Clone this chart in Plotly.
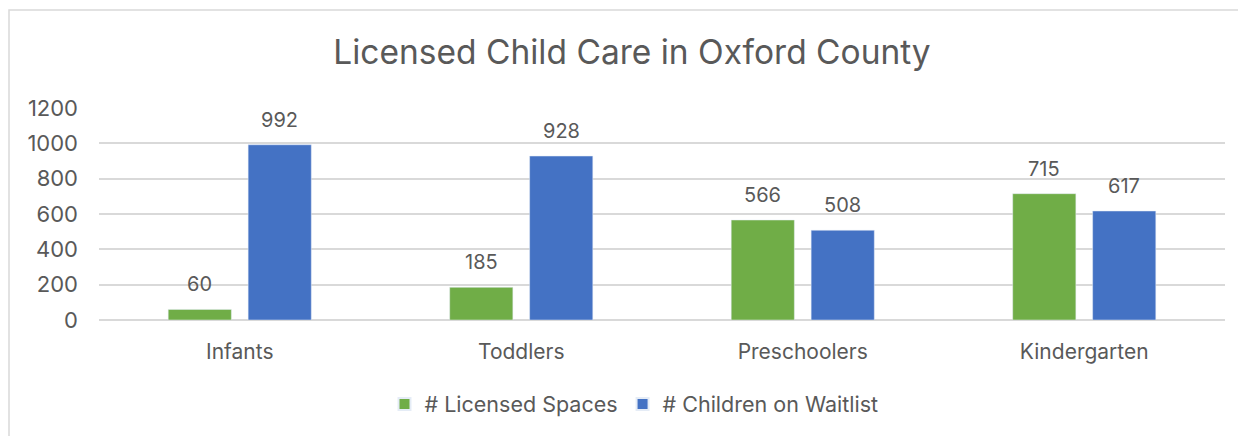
import plotly.graph_objects as go

categories = ["Infants", "Toddlers", "Preschoolers", "Kindergarten"]
licensed_spaces = [60, 185, 566, 715]
children_waitlist = [992, 928, 508, 617]
series_names = ["# Licensed Spaces", "# Children on Waitlist"]
y_ticks = [0, 200, 400, 600, 800, 1000, 1200]

# page body has an 8px margin, so the figure is drawn 8px in from the window corner
OFF = 8
W, H = 1246 - OFF, 436 - OFF
ml, mr, mt, mb = 99 - OFF, 21, 108 - OFF, 116
pw, ph = W - ml - mr, H - mt - mb

font_family = "Inter, Roboto, 'Open Sans', sans-serif"
text_color = "#595959"
colors = ["#70AD47", "#4472C4"]

fig = go.Figure()
for name, vals, col in zip(series_names, [licensed_spaces, children_waitlist], colors):
    fig.add_trace(go.Bar(x=categories, y=vals, name=name, marker_color=col))

# data labels above bars
slot = pw / len(categories) * (1 - 0.432) / 2
for i, vals in enumerate([licensed_spaces, children_waitlist]):
    xs = -slot / 2 if i == 0 else slot / 2
    for c, v in zip(categories, vals):
        fig.add_annotation(x=c, y=v, text=str(v), showarrow=False, xshift=xs, yshift=25,
                           yanchor="middle", font=dict(size=20, color=text_color))

def px_x(x):
    return (x - OFF - ml) / pw

def px_y(y):
    return (H + OFF - mb - y) / ph

fig.add_shape(type="rect", xref="paper", yref="paper",
              x0=px_x(9), x1=px_x(1270), y0=px_y(460), y1=px_y(10),
              line=dict(color="#D9D9D9", width=1.5), fillcolor="rgba(0,0,0,0)", layer="below")

fig.update_layout(
    width=W, height=H,
    margin=dict(l=ml, r=mr, t=mt, b=mb),
    paper_bgcolor="white", plot_bgcolor="white",
    font=dict(family=font_family, color=text_color),
    title=dict(text="Licensed Child Care in Oxford County", x=px_x(632), xanchor="center",
               xref="paper", y=1 - (52 - OFF) / H, yanchor="middle",
               font=dict(size=33.5, color=text_color)),
    barmode="group", bargap=0.432, bargroupgap=0.21,
    showlegend=True,
    legend=dict(orientation="h", x=px_x(634), xanchor="center", y=px_y(404), yanchor="middle",
                font=dict(size=21.5, color=text_color), traceorder="normal",
                itemwidth=30, itemsizing="constant"),
    xaxis=dict(showgrid=False, showline=False, ticks="", tickfont=dict(size=21, color=text_color),
               ticklabelstandoff=17),
    yaxis=dict(range=[0, 1200], tickvals=y_ticks, showgrid=True, gridcolor="#D9D9D9",
               gridwidth=1.5, zeroline=True, zerolinecolor="#D9D9D9", zerolinewidth=1.5,
               tickfont=dict(size=22, color=text_color), ticklabelstandoff=20),
)

fig.write_html("out.html")
